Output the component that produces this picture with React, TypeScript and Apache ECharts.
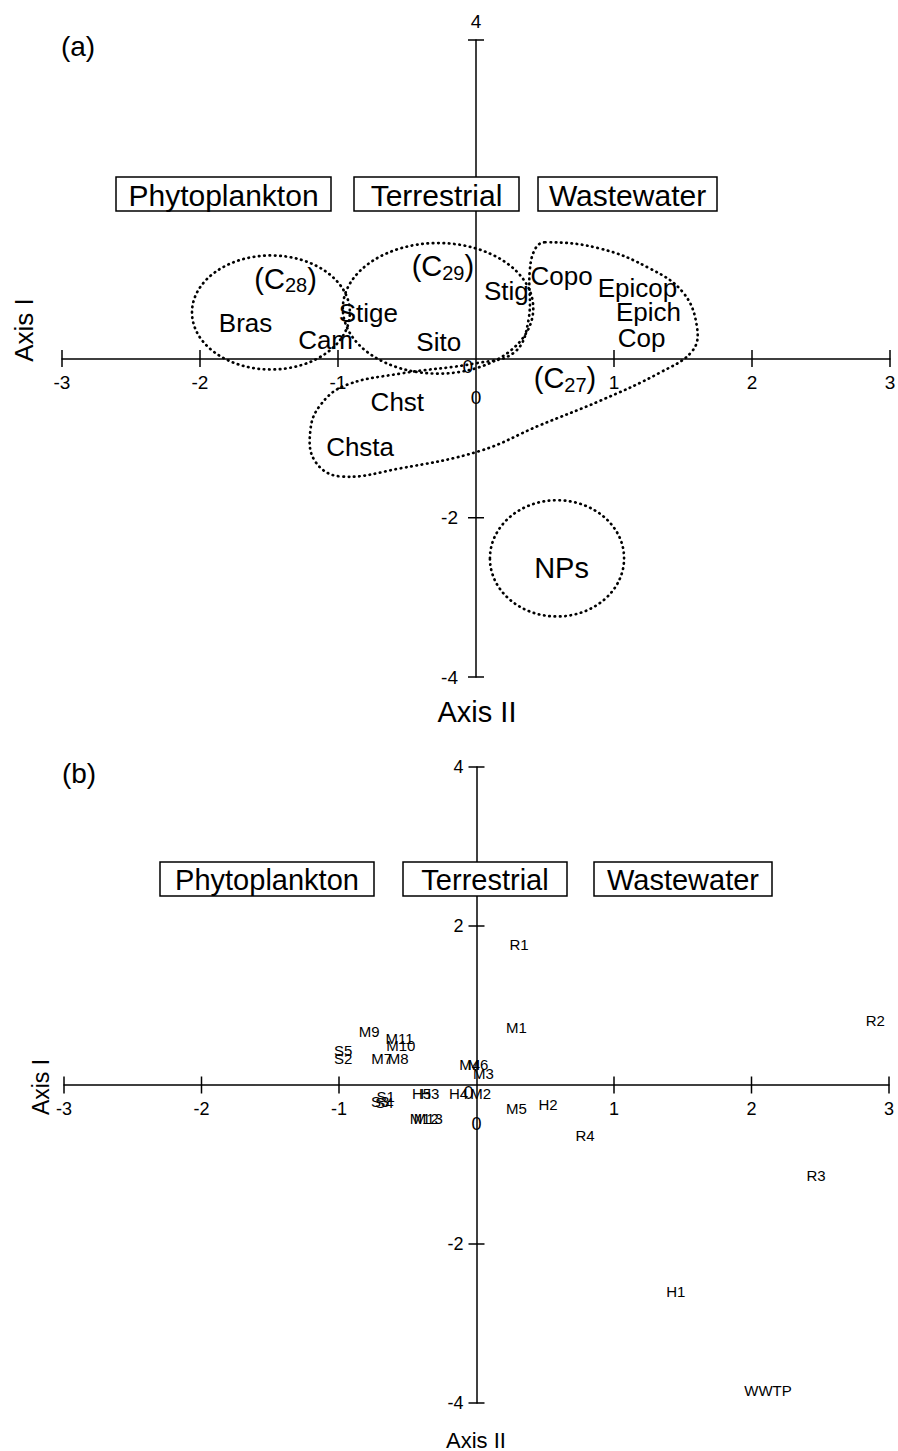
import React, { useEffect, useRef } from 'react';
import * as echarts from 'echarts';

const FONT = '"Liberation Sans", Arial, Helvetica, sans-serif';

// axis ticks (labels are the tick values themselves)
const xTicks = [-3, -2, -1, 1, 2, 3];
const yTicks = [-4, -2, 2, 4];

// panel (a): compound loadings
const compoundNames = ['Bras', 'Cam', 'Stige', 'Sito', 'Stig', 'Copo', 'Epicop', 'Epich', 'Cop', 'Chst', 'Chsta'];
const compoundX = [-1.67, -1.09, -0.78, -0.27, 0.22, 0.62, 1.17, 1.25, 1.2, -0.57, -0.84];
const compoundY = [0.44, 0.23, 0.57, 0.21, 0.85, 1.03, 0.88, 0.59, 0.26, -0.55, -1.11];

// panel (a): group labels
const groupNames = ['(C{s|28})', '(C{s|29})', '(C{s|27})', 'NPs'];
const groupX = [-1.38, -0.24, 0.645, 0.62];
const groupY = [1.0, 1.16, -0.25, -2.63];

// panel (a): dotted ellipses (centre, radii in axis units)
const ellipseCx = [-1.486, -0.275, 0.587];
const ellipseCy = [0.578, 0.63, -2.51];
const ellipseRx = [0.572, 0.69, 0.486];
const ellipseRy = [0.716, 0.82, 0.73];

// panel (a): dotted outline of C27 / sterol region
const blobX = [0.5, 0.9, 1.26, 1.5, 1.6, 1.57, 1.33, 0.9, 0.46, 0.03, -0.55, -0.99, -1.17, -1.2, -1.13, -0.95, -0.55, 0.0, 0.28, 0.38, 0.39, 0.43];
const blobY = [1.46, 1.38, 1.13, 0.83, 0.41, 0.1, -0.18, -0.53, -0.84, -1.16, -1.38, -1.48, -1.28, -0.9, -0.59, -0.34, -0.19, -0.06, 0.08, 0.48, 1.11, 1.38];

// panel (b): sample scores
const sampleNames = ['R1', 'M1', 'R2', 'M9', 'M11', 'M10', 'S5', 'S2', 'M7', 'M8', 'M4', 'M6', 'M3',
  'S1', 'S3', 'S4', 'H5', 'H3', 'H4', 'M2', 'M12', 'M13', 'M5', 'H2', 'R4', 'R3', 'H1', 'WWTP'];
const sampleX = [0.31, 0.29, 2.9, -0.78, -0.56, -0.55, -0.97, -0.97, -0.69, -0.57, -0.05, 0.01, 0.05,
  -0.66, -0.7, -0.67, -0.4, -0.34, -0.13, 0.03, -0.38, -0.35, 0.29, 0.52, 0.79, 2.47, 1.45, 2.12];
const sampleY = [1.77, 0.72, 0.81, 0.67, 0.59, 0.5, 0.43, 0.33, 0.33, 0.33, 0.26, 0.26, 0.14,
  -0.15, -0.21, -0.22, -0.11, -0.11, -0.11, -0.11, -0.42, -0.42, -0.3, -0.24, -0.64, -1.14, -2.6, -3.84];

const boxTexts = ['Phytoplankton', 'Terrestrial', 'Wastewater'];

const dotted = {
  fill: 'none',
  stroke: '#000',
  lineWidth: 2.7,
  lineDash: [0.5, 4.8],
  lineCap: 'round' as const,
};

function makeX(grid: number) {
  return {
    gridIndex: grid,
    type: 'value',
    min: -3,
    max: 3,
    interval: 1,
    axisLine: { onZero: true, lineStyle: { color: '#000', width: 1.5 } },
    axisTick: { show: false },
    splitLine: { show: false },
    axisLabel: { show: false },
  };
}

function makeY(grid: number) {
  return {
    gridIndex: grid,
    type: 'value',
    min: -4,
    max: 4,
    interval: 2,
    axisLine: { onZero: true, lineStyle: { color: '#000', width: 1.5 } },
    axisTick: { show: false },
    splitLine: { show: false },
    axisLabel: { show: false },
  };
}

// kind: 0 = x tick, 1 = y tick, 2 = origin labels
function tickSeries(grid: number) {
  const fs = grid === 0 ? 19 : 18;
  const yGap = grid === 0 ? 18 : 13;
  const data = [
    ...xTicks.map((v) => [v, 0, 0]),
    ...yTicks.map((v) => [0, v, 1]),
    [0, 0, 2],
  ];
  return {
    type: 'custom',
    xAxisIndex: grid,
    yAxisIndex: grid,
    silent: true,
    z: 4,
    data,
    renderItem: (_p: any, api: any) => {
      const vx = api.value(0);
      const vy = api.value(1);
      const kind = api.value(2);
      const c = api.coord([vx, vy]);
      const font = `${fs}px ${FONT}`;
      const children: any[] = [];
      if (kind === 0) {
        children.push({
          type: 'line',
          shape: { x1: c[0], y1: c[1] - 8.5, x2: c[0], y2: c[1] + 8.5 },
          style: { stroke: '#000', lineWidth: 1.5 },
        });
        children.push({
          type: 'text',
          x: c[0],
          y: c[1] + 24,
          style: { text: String(vx), fill: '#000', font, align: 'center', verticalAlign: 'middle' },
        });
      } else if (kind === 1) {
        children.push({
          type: 'line',
          shape: { x1: c[0] - 8, y1: c[1], x2: c[0] + 8, y2: c[1] },
          style: { stroke: '#000', lineWidth: 1.5 },
        });
        if (grid === 0 && vy === 4) {
          children.push({
            type: 'text',
            x: c[0],
            y: c[1] - 19,
            style: { text: String(vy), fill: '#000', font, align: 'center', verticalAlign: 'middle' },
          });
        } else if (!(grid === 0 && vy === 2)) {
          children.push({
            type: 'text',
            x: c[0] - yGap,
            y: c[1],
            style: { text: String(vy), fill: '#000', font, align: 'right', verticalAlign: 'middle' },
          });
        }
      } else {
        children.push({
          type: 'text',
          x: c[0],
          y: c[1] + 39,
          style: { text: '0', fill: '#000', font, align: 'center', verticalAlign: 'middle' },
        });
        children.push({
          type: 'text',
          x: c[0] - 3,
          y: c[1] + 8,
          style: { text: '0', fill: '#000', font, align: 'right', verticalAlign: 'middle' },
        });
      }
      return { type: 'group', children };
    },
  };
}

function labelSeries(grid: number, names: string[], xs: number[], ys: number[], fontSize: number) {
  return {
    type: 'custom',
    xAxisIndex: grid,
    yAxisIndex: grid,
    silent: true,
    z: 5,
    data: names.map((_n, i) => [xs[i], ys[i]]),
    renderItem: (p: any, api: any) => {
      const c = api.coord([api.value(0), api.value(1)]);
      return {
        type: 'text',
        x: c[0],
        y: c[1],
        style: {
          text: names[p.dataIndex],
          fill: '#000',
          fontSize,
          fontFamily: FONT,
          align: 'center',
          verticalAlign: 'middle',
          rich: {
            s: { fontSize: 20, lineHeight: 20, padding: [13, 0, 0, 0], fill: '#000', fontFamily: FONT },
          },
        },
      };
    },
  };
}

function boxes(xs: number[][], y: number, fs: number) {
  const out: any[] = [];
  xs.forEach(([x0, x1], i) => {
    out.push({
      type: 'rect',
      z: 100,
      shape: { x: x0, y, width: x1 - x0, height: 34 },
      style: { fill: '#fff', stroke: '#000', lineWidth: 1.5 },
    });
    out.push({
      type: 'text',
      z: 101,
      x: (x0 + x1) / 2,
      y: y + 18,
      style: {
        text: boxTexts[i],
        fill: '#000',
        font: `${fs}px ${FONT}`,
        align: 'center',
        verticalAlign: 'middle',
      },
    });
  });
  return out;
}

export default function App() {
  const ref = useRef<HTMLDivElement>(null);
  useEffect(() => {
    document.body.style.margin = '0';
    if (!ref.current) return;
    const chart = echarts.init(ref.current, null, { renderer: 'svg' });
    const option: any = {
      animation: false,
      backgroundColor: '#fff',
      grid: [
        { left: 62, right: 8, top: 40, bottom: 774 },
        { left: 64, right: 9, top: 767, bottom: 48 },
      ],
      xAxis: [makeX(0), makeX(1)],
      yAxis: [makeY(0), makeY(1)],
      series: [
        tickSeries(0),
        tickSeries(1),
        {
          type: 'custom',
          xAxisIndex: 0,
          yAxisIndex: 0,
          silent: true,
          data: ellipseCx.map((cx, i) => [cx, ellipseCy[i], ellipseRx[i], ellipseRy[i]]),
          renderItem: (_p: any, api: any) => {
            const c = api.coord([api.value(0), api.value(1)]);
            const s = api.size([api.value(2), api.value(3)], [api.value(0), api.value(1)]);
            return {
              type: 'ellipse',
              shape: { cx: c[0], cy: c[1], rx: s[0], ry: s[1] },
              style: dotted,
            };
          },
          z: 3,
        },
        {
          type: 'custom',
          xAxisIndex: 0,
          yAxisIndex: 0,
          silent: true,
          data: [[0, 0]],
          renderItem: (_p: any, api: any) => {
            const pts = blobX.map((x, i) => api.coord([x, blobY[i]]));
            return {
              type: 'polygon',
              shape: { points: pts, smooth: 0.4 },
              style: dotted,
            };
          },
          z: 3,
        },
        labelSeries(0, compoundNames, compoundX, compoundY, 26),
        labelSeries(0, groupNames, groupX, groupY, 29),
        labelSeries(1, sampleNames, sampleX, sampleY, 15),
      ],
      graphic: [
        ...boxes([[116, 331], [354, 519], [538, 717]], 177, 30),
        ...boxes([[160, 374], [403, 567], [594, 772]], 862, 29),
        {
          type: 'text', z: 101, x: 78, y: 46,
          style: { text: '(a)', fill: '#000', font: `28px ${FONT}`, align: 'center', verticalAlign: 'middle' },
        },
        {
          type: 'text', z: 101, x: 79, y: 773,
          style: { text: '(b)', fill: '#000', font: `28px ${FONT}`, align: 'center', verticalAlign: 'middle' },
        },
        {
          type: 'text', z: 101, x: 477, y: 712,
          style: { text: 'Axis II', fill: '#000', font: `29px ${FONT}`, align: 'center', verticalAlign: 'middle' },
        },
        {
          type: 'text', z: 101, x: 476, y: 1440,
          style: { text: 'Axis II', fill: '#000', font: `22px ${FONT}`, align: 'center', verticalAlign: 'middle' },
        },
        {
          type: 'text', z: 101, x: 24, y: 330, rotation: Math.PI / 2,
          style: { text: 'Axis I', fill: '#000', font: `26px ${FONT}`, align: 'center', verticalAlign: 'middle' },
        },
        {
          type: 'text', z: 101, x: 41, y: 1087, rotation: Math.PI / 2,
          style: { text: 'Axis I', fill: '#000', font: `23px ${FONT}`, align: 'center', verticalAlign: 'middle' },
        },
      ],
    };
    chart.setOption(option);
    return () => chart.dispose();
  }, []);
  return <div ref={ref} style={{ width: 898, height: 1451 }} />;
}
